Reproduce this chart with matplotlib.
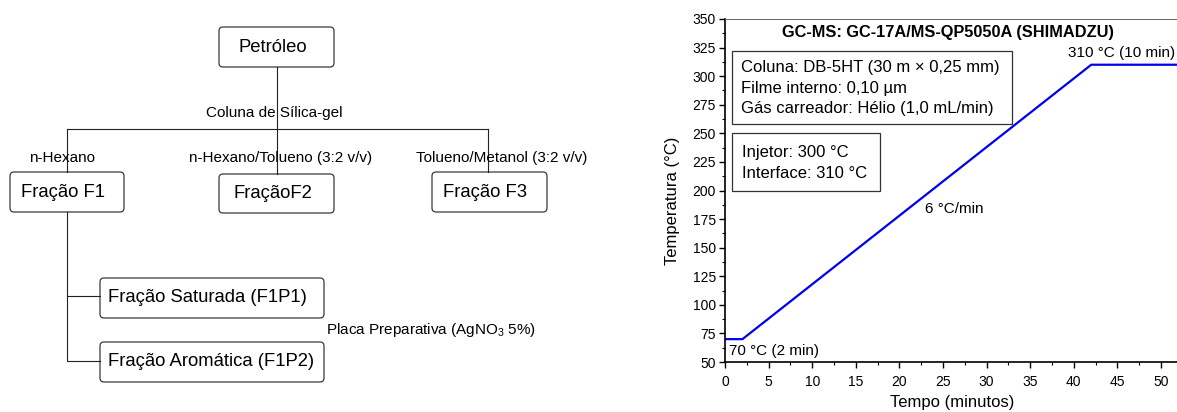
import numpy as np
import matplotlib
matplotlib.use('Agg')
import matplotlib.pyplot as plt
from matplotlib.patches import FancyBboxPatch, Rectangle
from matplotlib.ticker import MultipleLocator

plt.rcParams['font.family'] = ['Liberation Sans', 'DejaVu Sans']
plt.rcParams['mathtext.fontset'] = 'custom'
plt.rcParams['mathtext.rm'] = 'Liberation Sans'
plt.rcParams['mathtext.it'] = 'Liberation Sans:italic'

# oven temperature program
time_min = [0, 2, 42, 52]
temp_c = [70, 70, 310, 310]

x_ticks = np.arange(0, 51, 5)
y_ticks = np.arange(50, 351, 25)

# flowchart text
node_labels = ['Petróleo', 'Fração F1', 'FraçãoF2', 'Fração F3',
               'Fração Saturada (F1P1)', 'Fração Aromática (F1P2)']
eluent_labels = ['n-Hexano', 'n-Hexano/Tolueno (3:2 v/v)',
                 'Tolueno/Metanol (3:2 v/v)']
column_label = 'Coluna de Sílica-gel'
plate_label = r'Placa Preparativa (AgNO$_\mathrm{3}$ 5%)'

# chart annotations
title = 'GC-MS: GC-17A/MS-QP5050A (SHIMADZU)'
column_info = ['Coluna: DB-5HT (30 m × 0,25 mm)', 'Filme interno: 0,10 µm',
               'Gás carreador: Hélio (1,0 mL/min)']
temp_info = ['Injetor: 300 °C', 'Interface: 310 °C']

fig = plt.figure(figsize=(11.77, 4.12), dpi=100)

# ---- flowchart, drawn in pixel coordinates ----
ax0 = fig.add_axes([0, 0, 1, 1])
ax0.set_xlim(0, 1177)
ax0.set_ylim(412, 0)
ax0.axis('off')

# box corners (x0, y0, x1, y1)
boxes = [(219, 27, 334, 67), (10, 172, 124, 212), (219, 174, 334, 213),
         (432, 172, 547, 212), (100, 278, 324, 318), (100, 342, 324, 382)]
edge = '#3a3a3a'
for i, (x0, y0, x1, y1) in enumerate(boxes):
    ax0.add_patch(FancyBboxPatch((x0, y0), x1 - x0, y1 - y0,
                                 boxstyle='round,pad=0,rounding_size=4',
                                 fc='white', ec=edge, lw=0.9))
    if i < 4:
        ax0.text((x0 + x1) / 2 - 4, (y0 + y1) / 2, node_labels[i],
                 ha='center', va='center', fontsize=13.3)
    else:
        ax0.text(108, (y0 + y1) / 2, node_labels[i],
                 ha='left', va='center', fontsize=13.3)

lk = dict(color='#222222', lw=0.8)
ax0.plot([276.6, 276.6], [67, 174], **lk)
ax0.plot([67, 488], [128.5, 128.5], **lk)
ax0.plot([67, 67], [128.5, 172], **lk)
ax0.plot([488, 488], [128.5, 172], **lk)
ax0.plot([67, 67, 100], [212, 361, 361], **lk)
ax0.plot([67, 100], [296, 296], **lk)

ax0.text(274, 113, column_label, ha='center', va='center', fontsize=11)
for xc, lab in zip([62, 281, 502], eluent_labels):
    ax0.text(xc, 158, lab, ha='center', va='center', fontsize=11)
ax0.text(326, 330, plate_label, ha='left', va='center', fontsize=11)

# chart axis labels placed in pixels
ax0.text(672, 201, 'Temperatura (°C)', rotation=90, ha='center',
         va='center', fontsize=12)
ax0.text(952, 410, 'Tempo (minutos)', ha='center', va='bottom', fontsize=12)

# ---- temperature program chart ----
ax = fig.add_axes([725 / 1177, 50 / 412, 479.6 / 1177, 343 / 412])
ax.plot(time_min, temp_c, color='#0000ee', lw=1.6)
ax.set_xlim(0, 55)
ax.set_ylim(50, 350)
ax.set_xticks(x_ticks)
ax.set_yticks(y_ticks)
ax.xaxis.set_minor_locator(MultipleLocator(2.5))
ax.yaxis.set_minor_locator(MultipleLocator(12.5))
ax.tick_params(which='major', direction='out', length=4, width=1,
               labelsize=10, pad=2.5)
ax.tick_params(axis='x', which='major', pad=5)
ax.tick_params(which='minor', direction='out', length=2.2, width=0.8)
ax.tick_params(top=False, right=False, which='both')
for s in ['left', 'bottom']:
    ax.spines[s].set_linewidth(1.2)
ax.spines['top'].set_linewidth(0.7)
ax.spines['top'].set_color('#666666')
ax.spines['right'].set_visible(False)

ax.text(25.6, 337.8, title, ha='center', va='center', fontsize=11.8,
        fontweight='bold')
ax.add_patch(Rectangle((0.8, 258.2), 32.1, 63.8, fill=False, ec='#333333',
                       lw=0.9))
for yy, line in zip([308, 289.6, 272], column_info):
    ax.text(1.83, yy, line, ha='left', va='center', fontsize=12)
ax.add_patch(Rectangle((0.8, 199.6), 17.0, 50.7, fill=False, ec='#333333',
                       lw=0.9))
for yy, line in zip([232.8, 215.3], temp_info):
    ax.text(1.95, yy, line, ha='left', va='center', fontsize=12)

ax.text(45.5, 320.3, '310 °C (10 min)', ha='center', va='center', fontsize=11)
ax.text(22.9, 184, '6 °C/min', ha='left', va='center', fontsize=11)
ax.text(0.46, 59.6, '70 °C (2 min)', ha='left', va='center', fontsize=11)

fig.savefig('out.png', dpi=100)
